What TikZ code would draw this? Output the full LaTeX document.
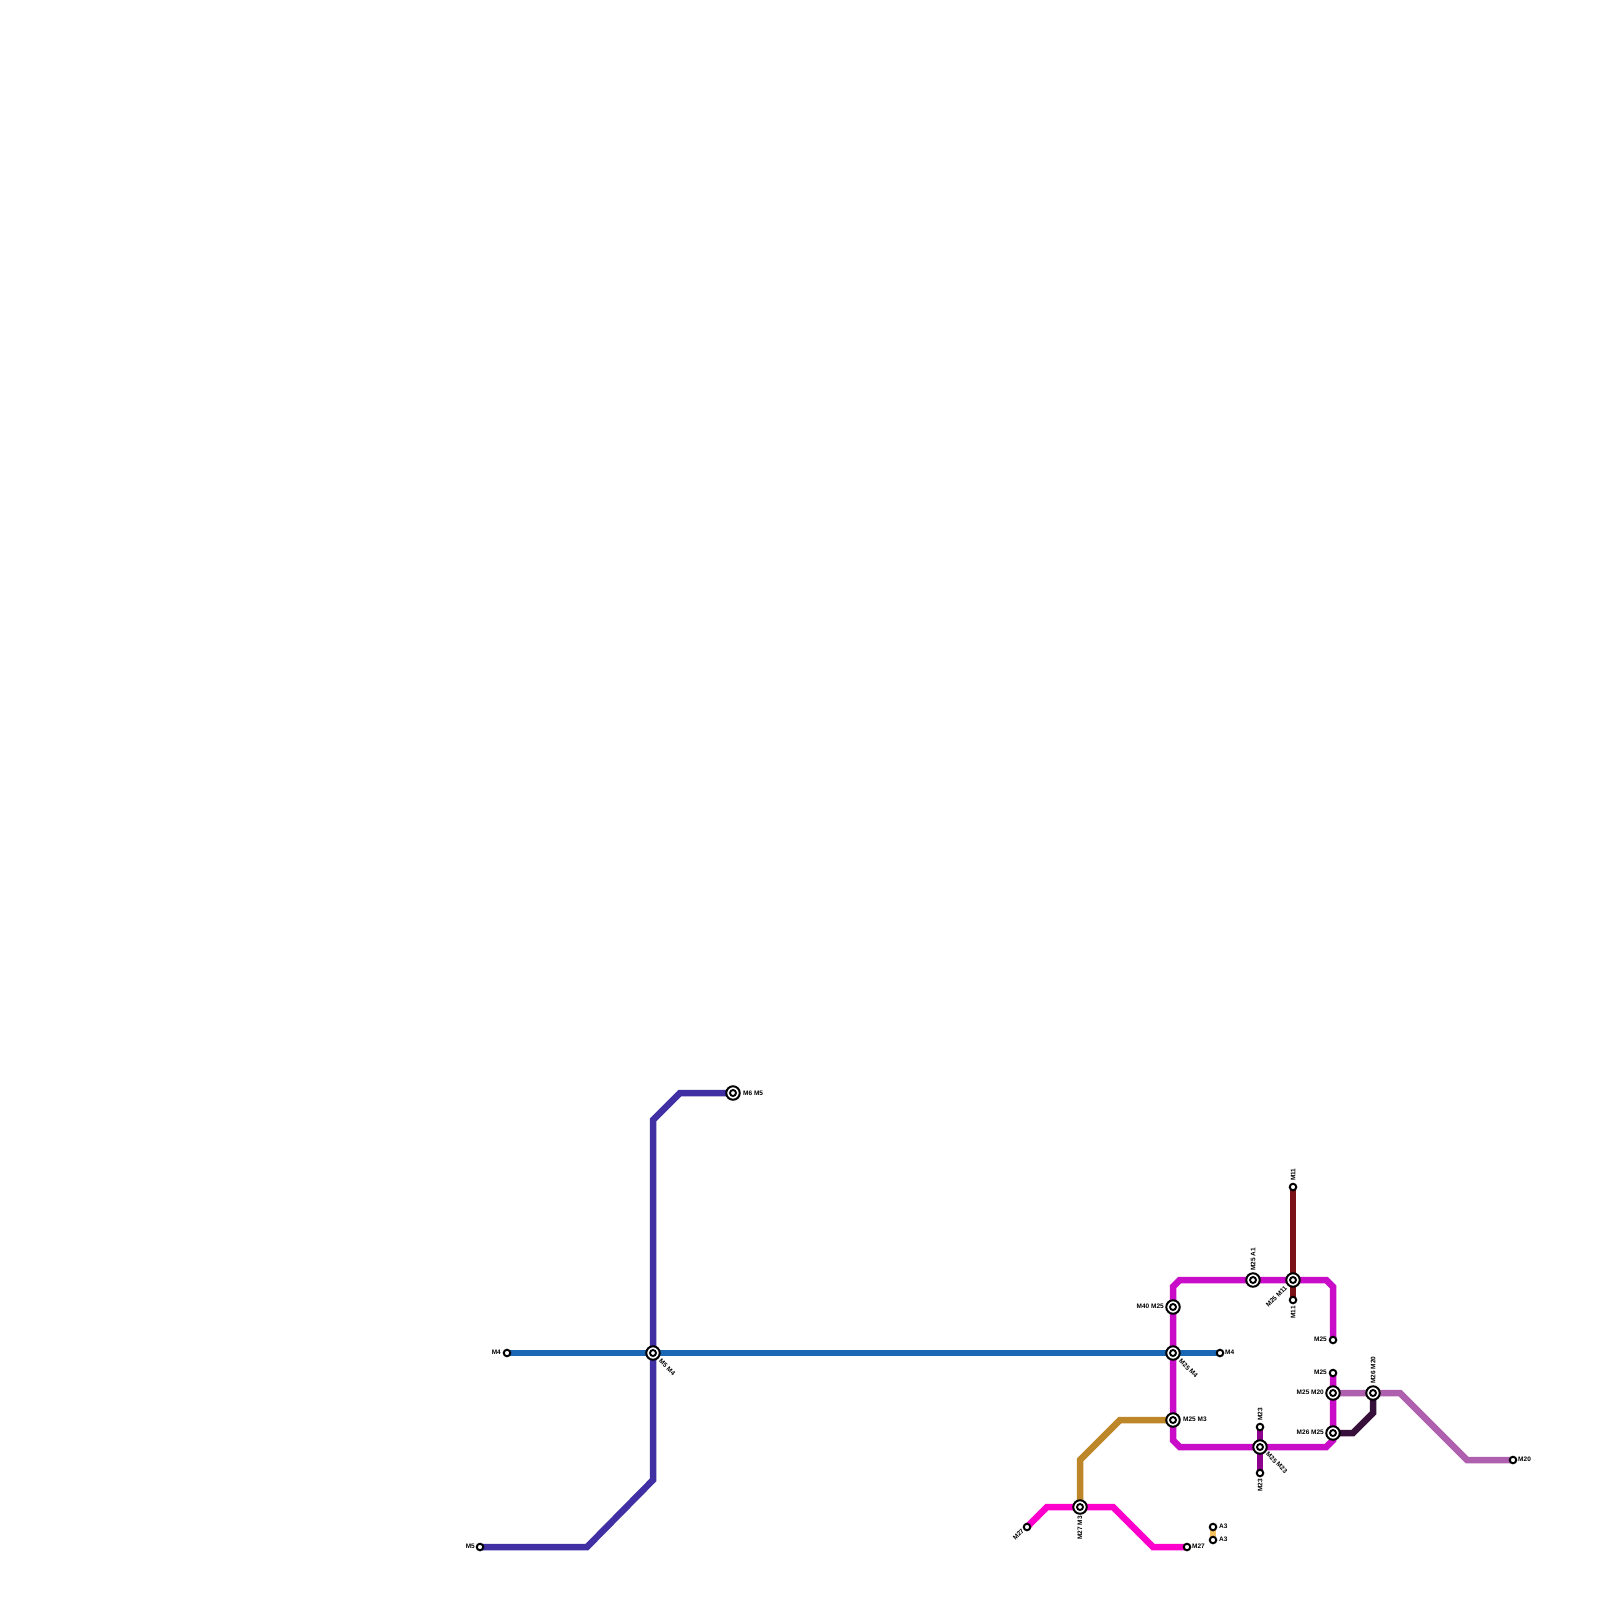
\documentclass[tikz,border=0pt]{standalone}
\usepackage{fontspec}
\setmainfont{Liberation Sans}
\usetikzlibrary{backgrounds}
\definecolor{cMfive}{HTML}{4130A3}
\definecolor{cMfour}{HTML}{1A68B5}
\definecolor{cMtf}{HTML}{C80CC8}
\definecolor{cMel}{HTML}{7A1218}
\definecolor{cMtw}{HTML}{AE60AE}
\definecolor{cMts}{HTML}{36103A}
\definecolor{cMthree}{HTML}{BD8628}
\definecolor{cMts7}{HTML}{FF00CC}
\definecolor{cAthree}{HTML}{F5C060}
\definecolor{cMtt}{HTML}{8F008F}
\tikzset{
  stop/.style={circle,draw=black,fill=white,line width=2pt,minimum size=6.5pt,inner sep=0pt},
  hub/.style={circle,draw=black,fill=white,line width=2pt,minimum size=13.5pt,inner sep=0pt,
    path picture={\draw[black,line width=1.9pt] (path picture bounding box.center) circle (3pt);}},
  lbl/.style={inner sep=0pt,font=\bfseries\fontsize{6.5pt}{7pt}\selectfont,text=black},
  route/.style={line width=6.5pt,line join=miter,line cap=butt},
}
\begin{document}
\begin{tikzpicture}[x=1pt,y=-1pt]
\useasboundingbox (0,0) rectangle (1600,1600);
% stations
\node[hub] (h65) at (733,1093) {};
\node[hub] (h54) at (653,1353) {};
\node[hub] (h254) at (1173,1353) {};
\node[hub] (h4025) at (1173,1307) {};
\node[hub] (h25a1) at (1253,1280) {};
\node[hub] (h2511) at (1293,1280) {};
\node[hub] (h2520) at (1333,1393) {};
\node[hub] (h2620) at (1373,1393) {};
\node[hub] (h2625) at (1333,1433) {};
\node[hub] (h253) at (1173,1420) {};
\node[hub] (h2523) at (1260,1447) {};
\node[hub] (h273) at (1080,1507) {};
\node[stop] (m4l) at (507,1353) {};
\node[stop] (m4r) at (1220,1353) {};
\node[stop] (m5l) at (480,1547) {};
\node[stop] (m11t) at (1293,1187) {};
\node[stop] (m11b) at (1293,1300) {};
\node[stop] (m25a) at (1333,1340) {};
\node[stop] (m25b) at (1333,1373) {};
\node[stop] (m23t) at (1260,1427) {};
\node[stop] (m23b) at (1260,1473) {};
\node[stop] (m20r) at (1513,1460) {};
\node[stop] (m27l) at (1027,1527) {};
\node[stop] (m27r) at (1187,1547) {};
\node[stop] (a3t) at (1213,1527) {};
\node[stop] (a3b) at (1213,1540) {};
% bends
\coordinate (b1) at (680,1093);
\coordinate (b2) at (653,1120);
\coordinate (b3) at (653,1480);
\coordinate (b4) at (587,1547);
\coordinate (c1) at (1173,1286.7);
\coordinate (c2) at (1179.7,1280);
\coordinate (c3) at (1326.3,1280);
\coordinate (c4) at (1333,1286.7);
\coordinate (c5) at (1173,1440.3);
\coordinate (c6) at (1179.7,1447);
\coordinate (c7) at (1326.3,1447);
\coordinate (c8) at (1333,1440.3);
\coordinate (d1) at (1353,1433);
\coordinate (d2) at (1373,1413);
\coordinate (e1) at (1400,1393);
\coordinate (e2) at (1467,1460);
\coordinate (f1) at (1120,1420);
\coordinate (f2) at (1080,1460);
\coordinate (g1) at (1047,1507);
\coordinate (g2) at (1113,1507);
\coordinate (g3) at (1153,1547);
% routes
\begin{scope}[on background layer]
\fill[white] (0,0) rectangle (1600,1600);
\draw[route,cMfive] (h65.center) -- (b1) -- (b2) -- (h54.center) -- (b3) -- (b4) -- (m5l.center);
\draw[route,cAthree] (a3t.center) -- (a3b.center);
\draw[route,cMel] (m11t.center) -- (h2511.center) -- (m11b.center);
\draw[route,cMtt] (m23t.center) -- (h2523.center) -- (m23b.center);
\draw[route,cMtw] (h2520.center) -- (h2620.center) -- (e1) -- (e2) -- (m20r.center);
\draw[route,cMts] (h2625.center) -- (d1) -- (d2) -- (h2620.center);
\draw[route,cMthree] (h253.center) -- (f1) -- (f2) -- (h273.center);
\draw[route,cMts7] (m27l.center) -- (g1) -- (h273.center) -- (g2) -- (g3) -- (m27r.center);
\draw[route,cMtf] (m25a.center) -- (c4) -- (c3) -- (h2511.center) -- (h25a1.center) -- (c2) -- (c1) -- (h4025.center) -- (h254.center) -- (h253.center) -- (c5) -- (c6) -- (h2523.center) -- (c7) -- (c8) -- (h2625.center) -- (h2520.center) -- (m25b.center);
\draw[route,cMfour] (m4l.center) -- (h54.center) -- (h254.center) -- (m4r.center);
\end{scope}
% labels
\node[lbl,anchor=west] (t1) at (743,1093) {M6 M5};
\node[lbl,anchor=west,rotate=-45] (t2) at (660,1360) {M5 M4};
\node[lbl,anchor=west,rotate=-45] (t3) at (1180,1360) {M25 M4};
\node[lbl,anchor=east] (t4) at (1164,1306.5) {M40 M25};
\node[lbl,anchor=west,rotate=90] (t5) at (1253,1271) {M25 A1};
\node[lbl,anchor=east,rotate=45] (t6) at (1286,1287) {M25 M11};
\node[lbl,anchor=west,rotate=90] (t7) at (1293,1181) {M11};
\node[lbl,anchor=east,rotate=90] (t8) at (1293,1306) {M11};
\node[lbl,anchor=east] (t9) at (1327,1339.5) {M25};
\node[lbl,anchor=east] (t10) at (1327,1372.5) {M25};
\node[lbl,anchor=east] (t11) at (1324,1392.5) {M25 M20};
\node[lbl,anchor=east] (t12) at (1324,1432.5) {M26 M25};
\node[lbl,anchor=west,rotate=90] (t13) at (1373,1384) {M26 M20};
\node[lbl,anchor=west] (t14) at (1183,1419.5) {M25 M3};
\node[lbl,anchor=west,rotate=90] (t15) at (1260,1421) {M23};
\node[lbl,anchor=west,rotate=-45] (t16) at (1267,1453) {M25 M23};
\node[lbl,anchor=east,rotate=90] (t17) at (1260,1479) {M23};
\node[lbl,anchor=west] (t18) at (1225,1352.5) {M4};
\node[lbl,anchor=east] (t19) at (501,1352.5) {M4};
\node[lbl,anchor=east] (t20) at (475,1546) {M5};
\node[lbl,anchor=west] (t21) at (1518,1459.5) {M20};
\node[lbl,anchor=east,rotate=90] (t22) at (1080,1516) {M27 M3};
\node[lbl,anchor=east,rotate=45] (t23) at (1023,1530) {M27};
\node[lbl,anchor=west] (t24) at (1192,1546.5) {M27};
\node[lbl,anchor=west] (t25) at (1219,1526) {A3};
\node[lbl,anchor=west] (t26) at (1219,1539.5) {A3};
\end{tikzpicture}
\end{document}
